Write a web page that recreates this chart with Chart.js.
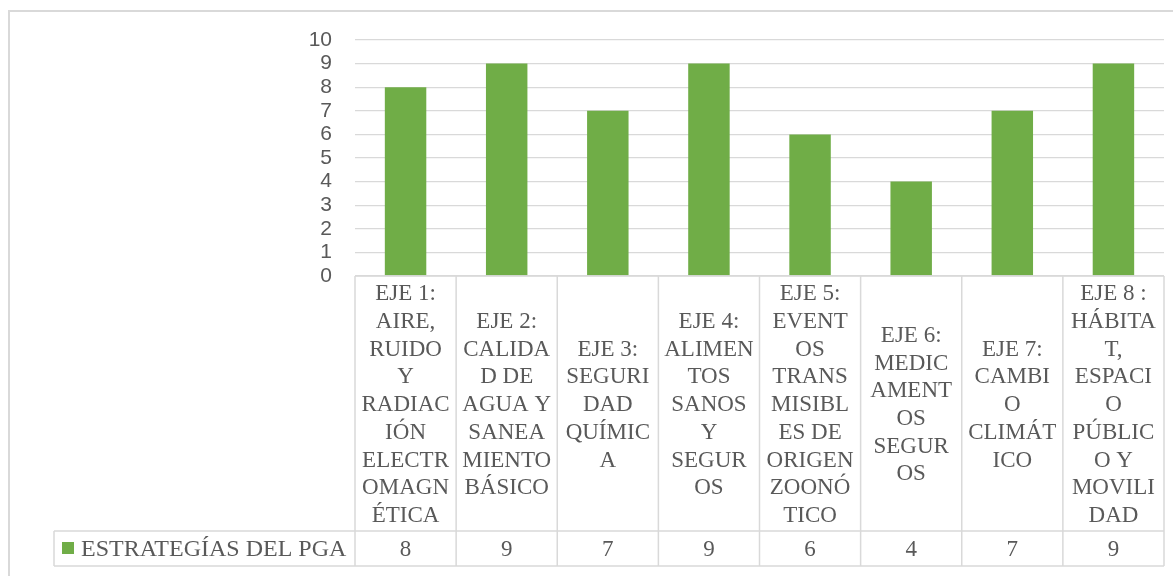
<!DOCTYPE html>
<html>
<head>
<meta charset="utf-8">
<script src="https://cdn.jsdelivr.net/npm/chart.js@4/dist/chart.umd.min.js"></script>
<style>
  html, body { margin: 0; padding: 0; background: #ffffff; }
  canvas { display: block; }
</style>
</head>
<body>
<canvas id="c" width="1173" height="576"></canvas>
<script>
// ---- data ----
const categories = [
  ["EJE 1:", "AIRE,", "RUIDO", "Y", "RADIAC", "IÓN", "ELECTR", "OMAGN", "ÉTICA"],
  ["EJE 2:", "CALIDA", "D DE", "AGUA Y", "SANEA", "MIENTO", "BÁSICO"],
  ["EJE 3:", "SEGURI", "DAD", "QUÍMIC", "A"],
  ["EJE 4:", "ALIMEN", "TOS", "SANOS", "Y", "SEGUR", "OS"],
  ["EJE 5:", "EVENT", "OS", "TRANS", "MISIBL", "ES DE", "ORIGEN", "ZOONÓ", "TICO"],
  ["EJE 6:", "MEDIC", "AMENT", "OS", "SEGUR", "OS"],
  ["EJE 7:", "CAMBI", "O", "CLIMÁT", "ICO"],
  ["EJE 8 :", "HÁBITA", "T,", "ESPACI", "O", "PÚBLIC", "O Y", "MOVILI", "DAD"]
];
const seriesName = "ESTRATEGÍAS DEL PGA";
const seriesValues = [8, 9, 7, 9, 6, 4, 7, 9];
const yTicks = [0, 1, 2, 3, 4, 5, 6, 7, 8, 9, 10];

// ---- styles ----
const GREEN = "#70AD47";
const GRID = "#d9d9d9";
const TEXT = "#595959";
const SERIF = "'Liberation Serif', 'Times New Roman', serif";
const SANS = "'Liberation Sans', Arial, sans-serif";

const tablePlugin = {
  id: "dataTable",
  afterDraw(chart) {
    const ctx = chart.ctx;
    const area = chart.chartArea;
    const xs = chart.scales.x;
    const n = categories.length;
    const w = (area.right - area.left) / n;
    const top = area.bottom;
    const mid = 531;
    const bot = 566;
    const legL = 54;

    ctx.save();
    // outer chart border
    ctx.strokeStyle = GRID;
    ctx.lineWidth = 2;
    ctx.strokeRect(9, 11, 1200, 600);

    // table lines
    ctx.lineWidth = 1.5;
    ctx.beginPath();
    ctx.moveTo(area.left, top); ctx.lineTo(area.right, top);
    ctx.moveTo(legL, mid); ctx.lineTo(area.right, mid);
    ctx.moveTo(legL, bot); ctx.lineTo(area.right, bot);
    for (let i = 0; i <= n; i++) {
      const x = area.left + i * w;
      ctx.moveTo(x, top); ctx.lineTo(x, bot);
    }
    ctx.moveTo(legL, mid); ctx.lineTo(legL, bot);
    ctx.stroke();

    // category texts
    ctx.fillStyle = TEXT;
    ctx.font = "23px " + SERIF;
    ctx.textAlign = "center";
    ctx.textBaseline = "alphabetic";
    const lh = 27.7;
    const cellC = (top + mid) / 2;
    for (let i = 0; i < n; i++) {
      const cx = xs.getPixelForValue(i);
      const lines = categories[i];
      for (let k = 0; k < lines.length; k++) {
        const capC = cellC + (k - (lines.length - 1) / 2) * lh;
        ctx.fillText(lines[k], cx, capC + 7.6);
      }
      // values row
      ctx.fillText(String(seriesValues[i]), cx, (mid + bot) / 2 + 7.8);
    }

    // legend key + series name
    ctx.fillStyle = GREEN;
    ctx.fillRect(62, 542, 12, 12);
    ctx.fillStyle = TEXT;
    ctx.font = "24px " + SERIF;
    ctx.textAlign = "left";
    ctx.fillText(seriesName, 81, (mid + bot) / 2 + 7.9);
    ctx.restore();
  }
};

new Chart(document.getElementById("c"), {
  type: "bar",
  data: {
    labels: categories.map(c => c.join(" ")),
    datasets: [{
      label: seriesName,
      data: seriesValues,
      backgroundColor: GREEN,
      borderWidth: 0,
      categoryPercentage: 1,
      barPercentage: 0.41
    }]
  },
  options: {
    responsive: false,
    devicePixelRatio: 1,
    animation: false,
    layout: { padding: { top: 40, right: 9, bottom: 300, left: 0 } },
    plugins: { legend: { display: false }, tooltip: { enabled: false } },
    scales: {
      x: { display: false },
      y: {
        min: 0, max: 10,
        afterFit(scale) { scale.width = 355; },
        afterBuildTicks(scale) { scale.ticks = yTicks.map(v => ({ value: v })); },
        ticks: { color: TEXT, font: { family: SANS, size: 21 }, padding: 23, autoSkip: false, stepSize: 1 },
        grid: { color: GRID, lineWidth: 1.3, drawTicks: false },
        border: { display: false }
      }
    }
  },
  plugins: [tablePlugin]
});
</script>
</body>
</html>
